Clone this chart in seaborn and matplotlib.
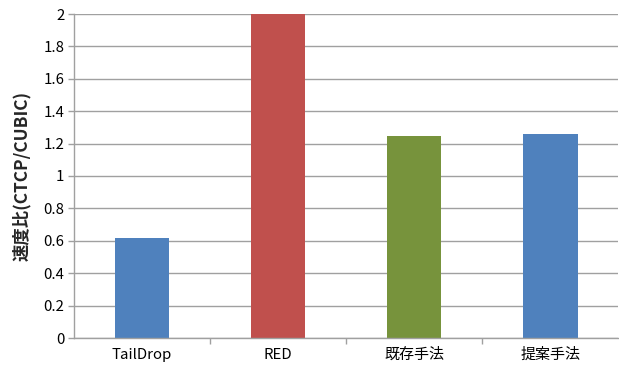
import matplotlib
matplotlib.use("Agg")
import matplotlib.pyplot as plt
import seaborn as sns
import pandas as pd
from matplotlib.ticker import FixedLocator

categories = ["TailDrop", "RED", "既存手法", "提案手法"]
values = [0.62, 2.0, 1.25, 1.26]
colors = ["#4F81BD", "#C0504D", "#77933C", "#4F81BD"]
yticks = [0, 0.2, 0.4, 0.6, 0.8, 1, 1.2, 1.4, 1.6, 1.8, 2]
ytick_labels = ["0", "0.2", "0.4", "0.6", "0.8", "1", "1.2", "1.4", "1.6", "1.8", "2"]

sns.set_theme(style="white")
plt.rcParams["font.family"] = ["Noto Sans CJK JP", "DejaVu Sans"]

df = pd.DataFrame({"cat": categories, "val": values})

fig = plt.figure(figsize=(6.19, 3.74), dpi=100)
ax = fig.add_axes([74 / 619, 1 - 338 / 374, 1 - 74 / 619 - 0.001, (338 - 14) / 374])
ax.set_axisbelow(True)
sns.barplot(data=df, x="cat", y="val", hue="cat", palette=colors, legend=False,
            width=0.40, saturation=1, ax=ax, edgecolor="none")

ax.set_ylim(0, 2)
ax.set_xlim(-0.5, 3.5)
ax.set_yticks(yticks)
ax.set_yticklabels(ytick_labels)
ax.yaxis.grid(True, color="#A0A0A0", linewidth=1.0)
ax.xaxis.grid(False)

for s in ["top", "right"]:
    ax.spines[s].set_visible(False)
for s in ["left", "bottom"]:
    ax.spines[s].set_visible(True)
    ax.spines[s].set_color("#A0A0A0")
    ax.spines[s].set_linewidth(1.0)

ax.xaxis.set_minor_locator(FixedLocator([0.5, 1.5, 2.5]))
ax.tick_params(axis="x", which="major", length=0, labelsize=10.8, pad=7, colors="black")
ax.tick_params(axis="x", which="minor", length=4, width=1, color="#A0A0A0", direction="out", bottom=True)
ax.tick_params(axis="y", which="major", length=4, width=1, color="#A0A0A0", direction="out",
               left=True, labelsize=10.8, pad=3, labelcolor="black")

ax.set_xlabel("")
ax.set_ylabel("速度比(CTCP/CUBIC)", fontsize=12.5, fontweight="bold", labelpad=9)

fig.savefig("out.png", dpi=100)
